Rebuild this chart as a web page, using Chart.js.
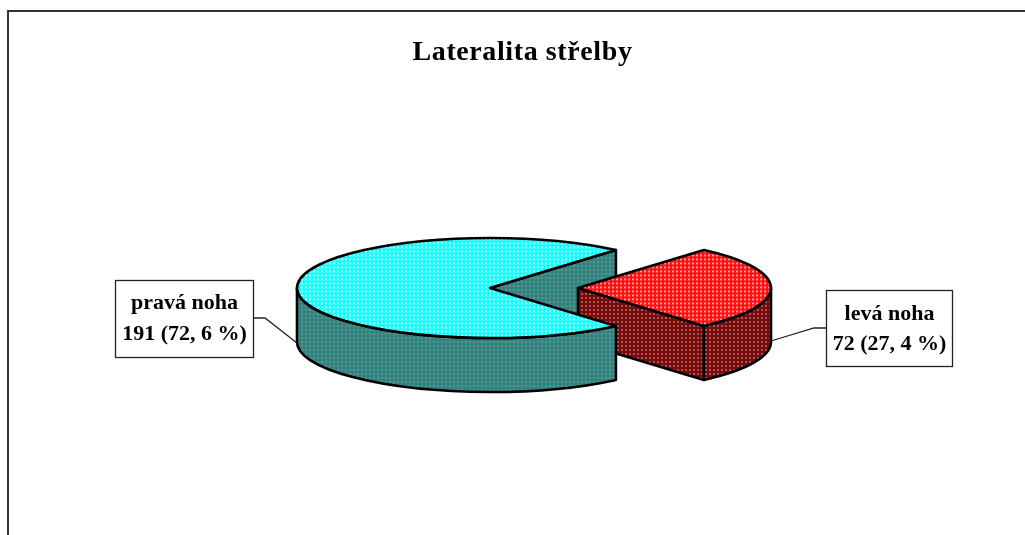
<!DOCTYPE html>
<html>
<head>
<meta charset="utf-8">
<title>Lateralita střelby</title>
<script src="https://cdn.jsdelivr.net/npm/chart.js@4"></script>
<style>
    html, body { margin: 0; padding: 0; background: #fff; overflow: hidden; }
    canvas { display: block; }
</style>
</head>
<body>
<canvas id="pie_strelba" width="1025" height="535"></canvas>
<script>
const chartTitle = 'Lateralita střelby';
const categories = ['levá noha', 'pravá noha'];
const counts = [72, 191];
const percentLabels = ['72 (27, 4 %)', '191 (72, 6 %)'];

const serif = "'Liberation Serif', 'Times New Roman', serif";
const squash = 50 / 193;   // tilt of the pie
const depth = 54;          // height of the pie side
const explode = [88, 0];   // pull-out of each slice, px

function dotPattern(base, dot, stretchY) {
    let tile = document.createElement('canvas');
    tile.width = 4;
    tile.height = 4;
    let c = tile.getContext('2d');
    c.fillStyle = base;
    c.fillRect(0, 0, 4, 4);
    c.fillStyle = dot;
    c.fillRect(1, 1, 2, 2);
    let pattern = c.createPattern(tile, 'repeat');
    if (stretchY) {
        pattern.setTransform(new DOMMatrix().scale(1, stretchY));
    }
    return pattern;
}

const topColors = [
    dotPattern('#ff1010', '#ffa0a0', 1 / squash),
    dotPattern('#10ffff', '#c8ffff', 1 / squash)
];
const sideColors = [
    dotPattern('#7a0a0a', '#a05a5a'),
    dotPattern('#2f8580', '#5f8f8f')
];

// chart.js moves a slice by offset / 4 * (1 + fix)
function offsetFor(px, value) {
    let angle = value / counts.reduce((a, b) => a + b, 0) * 2 * Math.PI;
    let fix = 1 - Math.sin(Math.min(Math.PI, angle));
    return px * 4 / (1 + fix);
}

function sliceOrigin(arc, index) {
    let mid = (arc.startAngle + arc.endAngle) / 2;
    return {
        x: arc.x + Math.cos(mid) * explode[index],
        y: arc.y + Math.sin(mid) * explode[index] * squash
    };
}

function fillStroke(ctx, style) {
    ctx.fillStyle = style;
    ctx.fill();
    ctx.stroke();
}

function drawEdgeFace(ctx, o, r, angle, style) {
    let x = o.x + Math.cos(angle) * r;
    let y = o.y + Math.sin(angle) * r * squash;
    ctx.beginPath();
    ctx.moveTo(o.x, o.y);
    ctx.lineTo(x, y);
    ctx.lineTo(x, y + depth);
    ctx.lineTo(o.x, o.y + depth);
    ctx.closePath();
    fillStroke(ctx, style);
}

function drawOuterFace(ctx, o, r, start, end, style) {
    // only the front half (0 to PI) can be seen
    let from = Math.max(start, 0);
    let to = Math.min(end, Math.PI);
    if (to <= from) {
        return;
    }
    ctx.beginPath();
    ctx.ellipse(o.x, o.y, r, r * squash, 0, from, to);
    ctx.ellipse(o.x, o.y + depth, r, r * squash, 0, to, from, true);
    ctx.closePath();
    fillStroke(ctx, style);
}

const pie3d = {
    id: 'pie3d',
    afterLayout(chart) {
        // the title sits right of the pie centre in the original
        chart.titleBlock.left += 32.5;
        chart.titleBlock.right += 32.5;
    },
    beforeDraw(chart) {
        chart.ctx.letterSpacing = '0.6px';   // only the title is spaced out
    },
    beforeDatasetsDraw(chart) {
        let ctx = chart.ctx;
        ctx.letterSpacing = '0px';
        let arcs = chart.getDatasetMeta(0).data;
        ctx.save();
        ctx.lineWidth = 2.6;
        ctx.strokeStyle = '#000';
        ctx.lineJoin = 'round';
        for (let i = arcs.length - 1; i >= 0; i--) {
            let o = sliceOrigin(arcs[i], i);
            if (Math.cos(arcs[i].endAngle) > 0) {
                drawEdgeFace(ctx, o, arcs[i].outerRadius, arcs[i].endAngle, sideColors[i]);
            }
        }
        arcs.forEach((arc, i) => {
            let o = sliceOrigin(arc, i);
            drawOuterFace(ctx, o, arc.outerRadius, arc.startAngle, arc.endAngle, sideColors[i]);
        });
        ctx.restore();

        // the slices themselves are drawn flattened by chart.js
        let a = arcs[0];
        ctx.save();
        ctx.translate(a.x, a.y);
        ctx.scale(1, squash);
        ctx.translate(-a.x, -a.y);
    },
    afterDatasetsDraw(chart) {
        let ctx = chart.ctx;
        ctx.restore();
        let arcs = chart.getDatasetMeta(0).data;
        ctx.save();
        ctx.lineWidth = 2.6;
        ctx.strokeStyle = '#000';
        ctx.lineJoin = 'round';
        arcs.forEach((arc, i) => {
            let o = sliceOrigin(arc, i);
            ctx.beginPath();
            ctx.moveTo(o.x, o.y);
            ctx.ellipse(o.x, o.y, arc.outerRadius, arc.outerRadius * squash, 0, arc.startAngle, arc.endAngle);
            ctx.closePath();
            ctx.stroke();
        });
        ctx.restore();
    }
};

function drawLabel(ctx, box, lines, leader) {
    ctx.strokeStyle = '#222';
    ctx.lineWidth = 1.3;
    ctx.beginPath();
    leader.forEach((p, i) => i ? ctx.lineTo(p[0], p[1]) : ctx.moveTo(p[0], p[1]));
    ctx.stroke();
    ctx.fillStyle = '#fff';
    ctx.fillRect(box.x, box.y, box.w, box.h);
    ctx.strokeRect(box.x, box.y, box.w, box.h);
    ctx.fillStyle = '#000';
    ctx.font = 'bold 22px ' + serif;
    ctx.textAlign = 'center';
    ctx.textBaseline = 'alphabetic';
    lines.forEach((text, i) => ctx.fillText(text, box.x + box.w / 2, box.y + box.base[i]));
}

const decorations = {
    id: 'decorations',
    afterDraw(chart) {
        let ctx = chart.ctx;
        ctx.save();
        // frame, cut off by the window on the right and bottom
        ctx.strokeStyle = '#333';
        ctx.lineWidth = 2;
        ctx.beginPath();
        ctx.moveTo(8, 535);
        ctx.lineTo(8, 11);
        ctx.lineTo(1025, 11);
        ctx.stroke();
        drawLabel(ctx, { x: 115.5, y: 280.5, w: 138, h: 77, base: [28, 59] },
            [categories[1], percentLabels[1]],
            [[254, 318], [265, 318], [297, 343]]);
        drawLabel(ctx, { x: 826.5, y: 290.5, w: 126, h: 76, base: [29, 59] },
            [categories[0], percentLabels[0]],
            [[826, 328], [814, 328], [771, 341]]);
        ctx.restore();
    }
};

new Chart(document.querySelector('#pie_strelba'), {
    type: 'pie',
    data: {
        labels: categories,
        datasets: [{
            data: counts,
            backgroundColor: topColors,
            borderWidth: 0,
            offset: counts.map((v, i) => offsetFor(explode[i], v)),
            clip: false
        }]
    },
    options: {
        responsive: false,
        animation: false,
        events: [],
        radius: 193,
        rotation: 90 - counts[0] / (counts[0] + counts[1]) * 180,
        layout: { padding: { left: 0, right: 45, top: 0, bottom: 28.6 } },
        plugins: {
            legend: { display: false },
            tooltip: { enabled: false },
            title: {
                display: true,
                text: chartTitle,
                color: '#000',
                font: { family: serif, size: 28, weight: 'bold' },
                padding: { top: 36, bottom: 0 }
            }
        }
    },
    plugins: [pie3d, decorations]
});
</script>
</body>
</html>
